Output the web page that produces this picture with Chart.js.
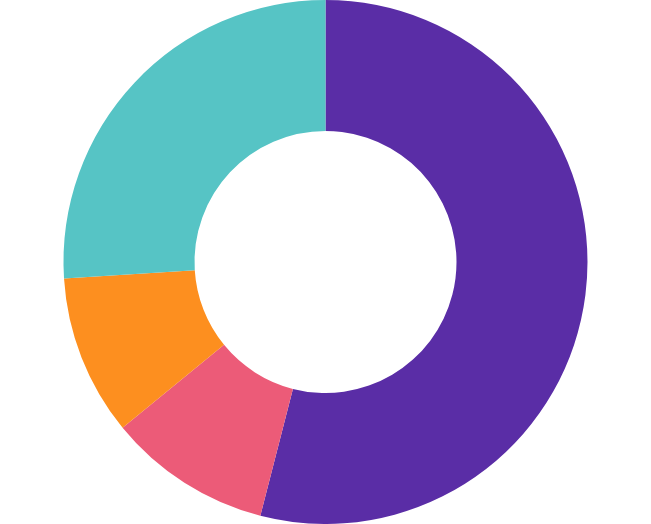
<!DOCTYPE html>
<html>
<head>
<meta charset="utf-8">
<script src="https://cdn.jsdelivr.net/npm/chart.js@4/dist/chart.umd.min.js"></script>
<style>
  html, body { margin: 0; padding: 0; background: #fff; }
  #wrap { width: 651px; height: 524px; }
</style>
</head>
<body>
<div id="wrap"><canvas id="chart"></canvas></div>
<script>
const labels = ["A", "B", "C", "D"];
const values = [54, 10.1, 9.9, 26];
const colors = ["#5a2da6", "#ec5b78", "#fd8f1f", "#56c4c5"];

const ctx = document.getElementById("chart").getContext("2d");
const chart = new Chart(ctx, {
  type: "doughnut",
  data: {
    labels: labels,
    datasets: [
      {
        data: values,
        backgroundColor: colors,
        borderWidth: 0,
      },
    ],
  },
  options: {
    responsive: true,
    maintainAspectRatio: false,
    animation: false,
    cutout: "50%",
    plugins: {
      legend: { display: false },
      tooltip: { enabled: false },
    },
  },
});
</script>
</body>
</html>
